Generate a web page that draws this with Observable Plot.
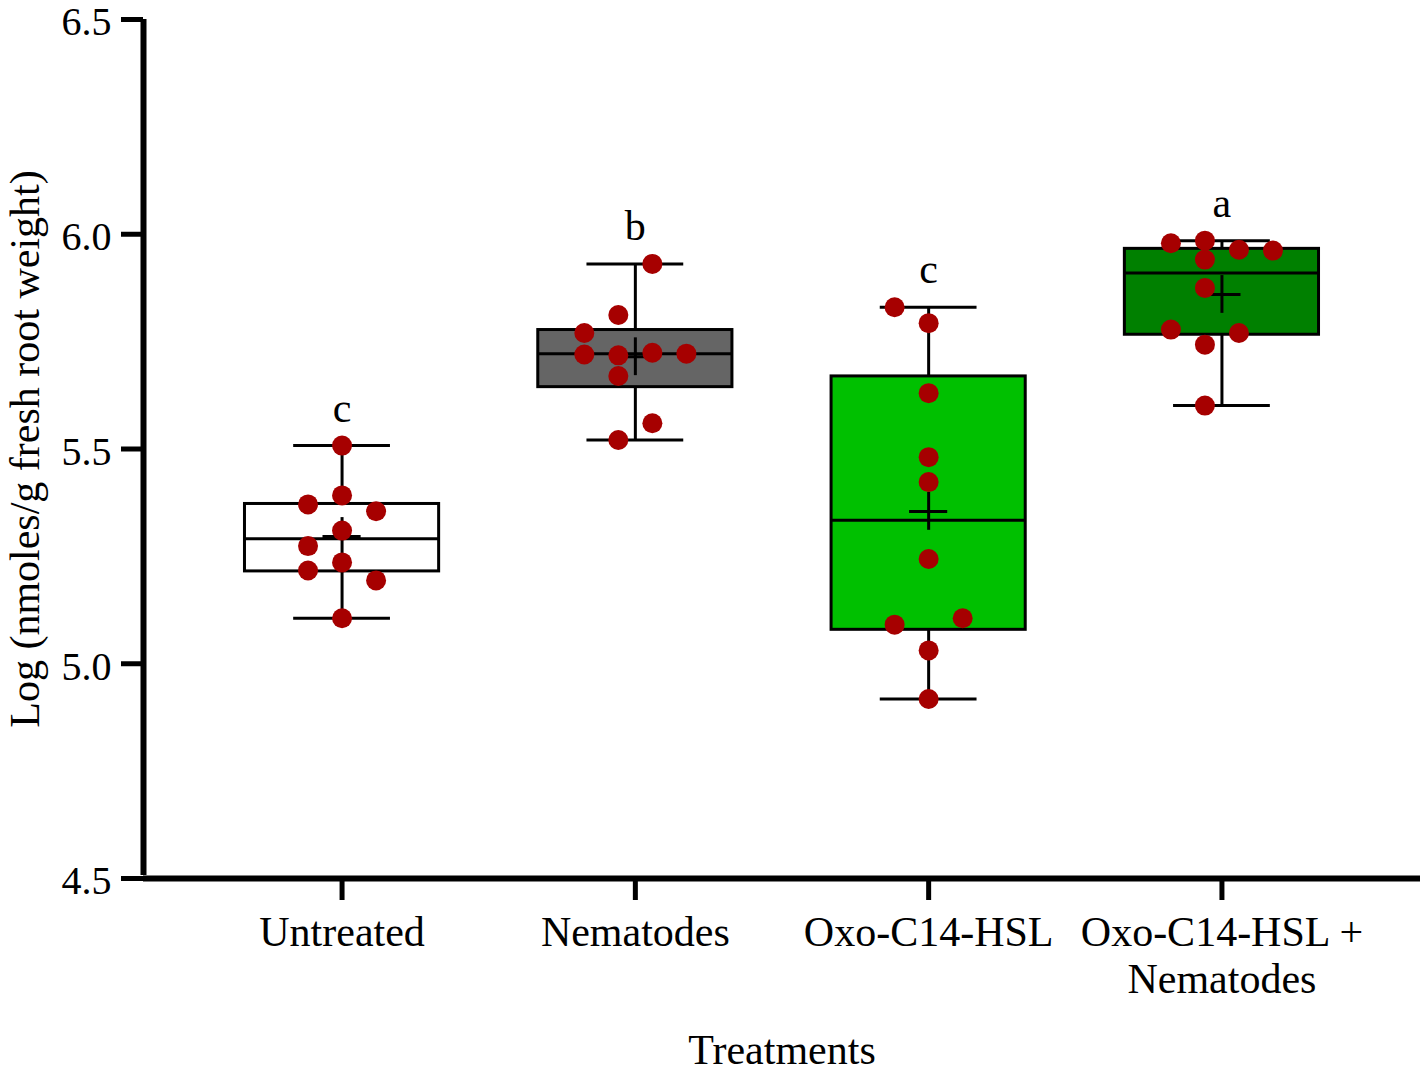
<!DOCTYPE html>
<html>
<head>
<meta charset="utf-8">
<script src="https://cdn.jsdelivr.net/npm/d3@7"></script>
<script src="https://cdn.jsdelivr.net/npm/@observablehq/plot@0.6"></script>
<style>
  html, body { margin: 0; padding: 0; background: #ffffff; }
  #chart svg { display: block; overflow: visible; }
</style>
</head>
<body>
<div id="chart"></div>
<script>
// ---- Data ----
const treatments = ["Untreated", "Nematodes", "Oxo-C14-HSL", "Oxo-C14-HSL +\nNematodes"];
const letters = ["c", "b", "c", "a"];

const untreated = [5.508, 5.392, 5.371, 5.355, 5.310, 5.274, 5.236, 5.217, 5.194, 5.106];
const nematodes = [5.931, 5.812, 5.770, 5.720, 5.718, 5.724, 5.722, 5.670, 5.560, 5.521];
const oxo       = [5.830, 5.793, 5.630, 5.481, 5.423, 5.244, 5.091, 5.106, 5.031, 4.918];
const oxoNem    = [5.979, 5.985, 5.964, 5.962, 5.941, 5.875, 5.778, 5.770, 5.743, 5.601];

// scatter column of each point within its group (as arranged in the reference)
const untreatedCol = [0, 0, -1, 1, 0, -1, 0, -1, 1, 0];
const nematodesCol = [0.5, -0.5, -1.5, -1.5, -0.5, 0.5, 1.5, -0.5, 0.5, -0.5];
const oxoCol       = [-1, 0, 0, 0, 0, 0, -1, 1, 0, 0];
const oxoNemCol    = [-1.5, -0.5, 0.5, 1.5, -0.5, -0.5, -1.5, 0.5, -0.5, -0.5];

const q1     = [5.215, 5.644, 5.079, 5.766];
const median = [5.291, 5.722, 5.334, 5.910];
const q3     = [5.372, 5.777, 5.669, 5.966];

const yTicks = [4.5, 5.0, 5.5, 6.0, 6.5];

// ---- Build tables ----
const groups = [untreated, nematodes, oxo, oxoNem];
const cols = [untreatedCol, nematodesCol, oxoCol, oxoNemCol];
const fills = ["#ffffff", "#656565", "#00c000", "#008000"];

const points = groups.flatMap((vals, i) => vals.map((v, j) => ({i, v, col: cols[i][j]})));
const boxes = treatments.map((t, i) => ({
  i,
  q1: q1[i], med: median[i], q3: q3[i],
  lo: d3.min(groups[i]), hi: d3.max(groups[i]), mean: d3.mean(groups[i]),
  letter: letters[i], fill: fills[i]
}));

const BOX = 0.331, CAP = 0.165, STEP = 0.116, CX = 0.065, CY = 0.044;
const xDomain = [-0.677, 3.677];
const lw = 3;

const chart = Plot.plot({
  width: 1425,
  height: 1070,
  marginLeft: 143,
  marginRight: 5,
  marginTop: 19,
  marginBottom: 192,
  style: {fontFamily: "'Liberation Serif', 'Times New Roman', serif", background: "#ffffff", color: "#000000"},
  x: {domain: xDomain},
  y: {domain: [4.5, 6.5]},
  color: {type: "identity"},
  marks: [
    // whiskers
    Plot.ruleX(boxes, {x: "i", y1: "q3", y2: "hi", stroke: "#000", strokeWidth: lw}),
    Plot.ruleX(boxes, {x: "i", y1: "lo", y2: "q1", stroke: "#000", strokeWidth: lw}),
    Plot.ruleY(boxes, {y: "hi", x1: d => d.i - CAP, x2: d => d.i + CAP, stroke: "#000", strokeWidth: lw}),
    Plot.ruleY(boxes, {y: "lo", x1: d => d.i - CAP, x2: d => d.i + CAP, stroke: "#000", strokeWidth: lw}),
    // boxes
    Plot.rect(boxes, {x1: d => d.i - BOX, x2: d => d.i + BOX, y1: "q1", y2: "q3", fill: "fill", stroke: "#000", strokeWidth: lw}),
    // median
    Plot.ruleY(boxes, {y: "med", x1: d => d.i - BOX, x2: d => d.i + BOX, stroke: "#000", strokeWidth: lw}),
    // mean cross
    Plot.ruleY(boxes, {y: "mean", x1: d => d.i - CX, x2: d => d.i + CX, stroke: "#000", strokeWidth: lw}),
    Plot.ruleX(boxes, {x: "i", y1: d => d.mean - CY, y2: d => d.mean + CY, stroke: "#000", strokeWidth: lw}),
    // points
    Plot.dot(points, {x: d => d.i + d.col * STEP, y: "v", r: 10, fill: "#a60000", stroke: "none"}),
    // significance letters
    Plot.text(boxes, {x: "i", y: "hi", text: "letter", dy: -24, lineAnchor: "bottom", fontSize: 42, fill: "#000"}),
    // y axis: ticks, then labels
    Plot.axisY({ticks: yTicks, tickSize: 22, strokeWidth: 5, tickFormat: () => "", label: null}),
    Plot.axisY({ticks: yTicks, tickSize: 0, tickPadding: 32, tickFormat: d3.format(".1f"), fontSize: 40, dy: 3, label: null}),
    // x axis
    Plot.axisX({ticks: [0, 1, 2, 3], tickFormat: i => treatments[i], tickSize: 22, tickPadding: 13, fontSize: 42, lineHeight: 1.1, strokeWidth: 5, label: null}),
    Plot.ruleX([xDomain[0]], {strokeWidth: 6, stroke: "#000", y1: 4.5, y2: 6.5, insetTop: -3}),
    Plot.ruleY([4.5], {strokeWidth: 6, stroke: "#000"}),
    // axis titles
    Plot.text(["Log (nmoles/g fresh root weight)"], {frameAnchor: "left", textAnchor: "middle", dx: -118, rotate: -90, fontSize: 42, fill: "#000"}),
    Plot.text(["Treatments"], {frameAnchor: "bottom", dy: 185, fontSize: 42, fill: "#000"})
  ]
});

document.getElementById("chart").appendChild(chart);
</script>
</body>
</html>
